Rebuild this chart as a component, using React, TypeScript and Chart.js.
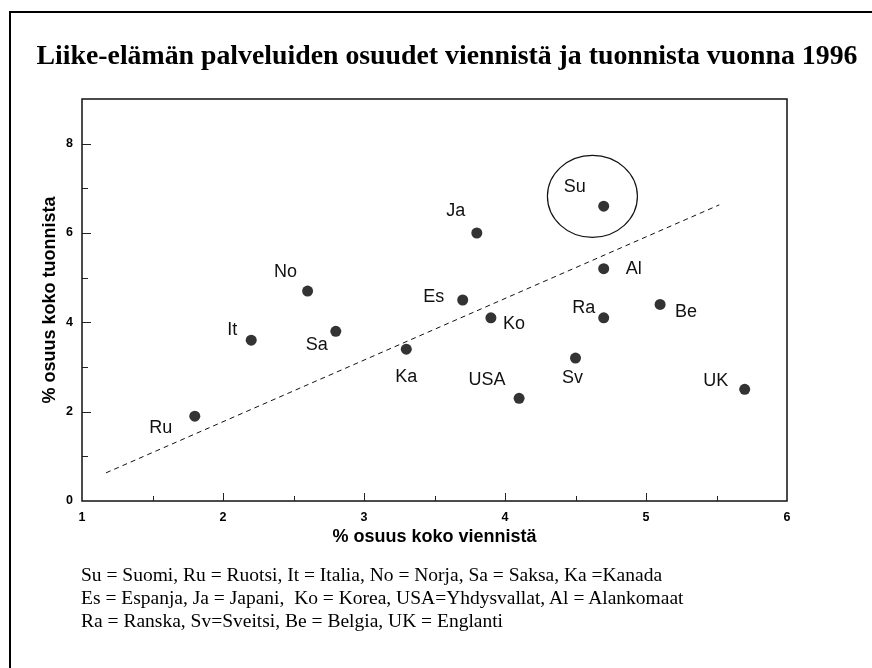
import React, { useEffect, useRef } from "react";
import { Chart, registerables } from "chart.js";

Chart.register(...registerables);

const TITLE = "Liike-elämän palveluiden osuudet viennistä ja tuonnista vuonna 1996";
const X_TITLE = "% osuus koko viennistä";
const Y_TITLE = "% osuus koko tuonnista";

const countries = ["Ru", "It", "No", "Sa", "Ka", "Es", "Ja", "Ko", "USA", "Sv", "Ra", "Al", "Su", "Be", "UK"];
const exportShare = [1.8, 2.2, 2.6, 2.8, 3.3, 3.7, 3.8, 3.9, 4.1, 4.5, 4.7, 4.7, 4.7, 5.1, 5.7];
const importShare = [1.9, 3.6, 4.7, 3.8, 3.4, 4.5, 6.0, 4.1, 2.3, 3.2, 4.1, 5.2, 6.6, 4.4, 2.5];

// trend (regression) line end points
const trendX = [1.17, 5.52];
const trendY = [0.63, 6.63];

// highlight circle around Finland
const highlightCenter = { x: 4.62, y: 6.82 };

const X_MIN = 1, X_MAX = 6, X_STEP = 0.5;
const Y_MIN = 0, Y_MAX = 9, Y_STEP = 1;

const footnotes = [
  "Su = Suomi, Ru = Ruotsi, It = Italia, No = Norja, Sa = Saksa, Ka =Kanada",
  "Es = Espanja, Ja = Japani,  Ko = Korea, USA=Yhdysvallat, Al = Alankomaat",
  "Ra = Ranska, Sv=Sveitsi, Be = Belgia, UK = Englanti",
];

// label offsets (pixels) relative to each point, style only
const labelOffsets: Record<string, [number, number]> = {
  Ru: [-34, 12], It: [-19, -10], No: [-22, -19], Sa: [-19, 14], Ka: [0, 28],
  Es: [-29, -3], Ja: [-21, -22], Ko: [23, 6], USA: [-32, -18], Sv: [-3, 20],
  Ra: [-20, -10], Al: [30, 0], Su: [-29, -19], Be: [26, 8], UK: [-29, -8],
};

const SANS = "'Liberation Sans', Arial, sans-serif";
const SERIF = "'Liberation Serif', 'Times New Roman', serif";

const framePlugin = {
  id: "frameTicks",
  beforeDatasetsDraw(chart: any) {
    const { ctx, scales } = chart;
    ctx.save();
    const cx = scales.x.getPixelForValue(highlightCenter.x);
    const cy = scales.y.getPixelForValue(highlightCenter.y);
    ctx.beginPath();
    ctx.ellipse(cx, cy, 45, 41, 0, 0, Math.PI * 2);
    ctx.strokeStyle = "#111";
    ctx.lineWidth = 1.2;
    ctx.stroke();
    ctx.restore();
  },
  afterDraw(chart: any) {
    const { ctx, chartArea: a, scales } = chart;
    ctx.save();
    ctx.strokeStyle = "#111";
    ctx.lineWidth = 1.5;
    ctx.strokeRect(a.left, a.top, a.right - a.left, a.bottom - a.top);
    ctx.lineWidth = 1;
    ctx.strokeStyle = "#222";
    for (const t of scales.x.ticks) {
      const v = t.value;
      if (v <= X_MIN || v >= X_MAX) continue;
      const px = Math.round(scales.x.getPixelForValue(v)) + 0.5;
      const len = Number.isInteger(v) ? 8 : 5;
      ctx.beginPath();
      ctx.moveTo(px, a.bottom);
      ctx.lineTo(px, a.bottom - len);
      ctx.stroke();
    }
    for (const t of scales.y.ticks) {
      const v = t.value;
      if (v <= Y_MIN || v >= Y_MAX) continue;
      const py = Math.round(scales.y.getPixelForValue(v)) + 0.5;
      const len = v % 2 === 0 ? 9 : 6;
      ctx.beginPath();
      ctx.moveTo(a.left, py);
      ctx.lineTo(a.left + len, py);
      ctx.stroke();
    }
    ctx.restore();
  },
  afterDatasetsDraw(chart: any) {
    const { ctx } = chart;
    const meta = chart.getDatasetMeta(0);
    ctx.save();
    ctx.font = `18px ${SANS}`;
    ctx.fillStyle = "#111";
    ctx.textAlign = "center";
    ctx.textBaseline = "middle";
    meta.data.forEach((el: any, i: number) => {
      const name = countries[i];
      const [dx, dy] = labelOffsets[name] || [0, -15];
      ctx.fillText(name, el.x + dx, el.y + dy);
    });
    ctx.restore();
  },
};

export default function App() {
  const ref = useRef<HTMLCanvasElement | null>(null);
  useEffect(() => {
    if (!ref.current) return;
    const chart = new Chart(ref.current, {
      type: "scatter",
      data: {
        datasets: [
          {
            label: "maat",
            data: countries.map((_, i) => ({ x: exportShare[i], y: importShare[i] })),
            backgroundColor: "#333",
            borderColor: "#333",
            borderWidth: 0,
            pointRadius: 5.5,
            pointHoverRadius: 5.5,
          },
          {
            type: "line",
            label: "trendi",
            data: trendX.map((x, i) => ({ x, y: trendY[i] })),
            borderColor: "#111",
            borderWidth: 1,
            borderDash: [5, 4],
            pointRadius: 0,
            fill: false,
            showLine: true,
          } as any,
        ],
      },
      options: {
        animation: false,
        responsive: false,
        maintainAspectRatio: false,
        events: [],
        layout: { padding: { left: 0, top: 99, right: 85, bottom: 107 } },
        plugins: { legend: { display: false }, tooltip: { enabled: false } },
        scales: {
          x: {
            type: "linear",
            min: X_MIN,
            max: X_MAX,
            grid: { display: false, drawTicks: false },
            border: { display: false },
            ticks: {
              stepSize: X_STEP,
              autoSkip: false,
              maxRotation: 0,
              padding: 9,
              color: "#000",
              font: { family: SANS, weight: "bold", size: 12.5 },
              callback: (v: any) => (Number.isInteger(v) ? String(v) : ""),
            },
            title: {
              display: true,
              text: X_TITLE,
              color: "#000",
              font: { family: SANS, weight: "bold", size: 18 },
              padding: { top: 0, bottom: 13 },
            },
            afterFit: (s: any) => { s.height = 60; },
          },
          y: {
            type: "linear",
            min: Y_MIN,
            max: Y_MAX,
            grid: { display: false, drawTicks: false },
            border: { display: false },
            ticks: {
              stepSize: Y_STEP,
              autoSkip: false,
              padding: 9,
              color: "#000",
              font: { family: SANS, weight: "bold", size: 12.5 },
              callback: (v: any) => (v % 2 === 0 ? String(v) : ""),
            },
            title: {
              display: true,
              text: Y_TITLE,
              color: "#000",
              font: { family: SANS, weight: "bold", size: 18 },
              padding: { top: 39, bottom: 0 },
            },
            afterFit: (s: any) => { s.width = 82; },
          },
        },
      } as any,
      plugins: [framePlugin],
    });
    return () => chart.destroy();
  }, []);

  return (
    <div style={{ position: "absolute", left: 0, top: 0, width: 872, height: 668, background: "#fff", overflow: "hidden" }}>
      <div style={{ position: "absolute", left: 9, top: 11, width: 863, height: 2, background: "#000" }} />
      <div style={{ position: "absolute", left: 9, top: 11, width: 2, height: 657, background: "#000" }} />
      <canvas ref={ref} width={872} height={668} style={{ position: "absolute", left: 0, top: 0, width: 872, height: 668 }} />
      <div style={{ position: "absolute", left: 0, top: 38, width: 894, textAlign: "center", fontFamily: SERIF, fontWeight: "bold", fontSize: 27.8, lineHeight: "34px", whiteSpace: "nowrap", color: "#000" }}>
        {TITLE}
      </div>
      <div style={{ position: "absolute", left: 81, top: 563, fontFamily: SERIF, fontSize: 19.5, lineHeight: "23px", whiteSpace: "pre", color: "#000" }}>
        {footnotes.map((f, i) => (<div key={i}>{f}</div>))}
      </div>
    </div>
  );
}
